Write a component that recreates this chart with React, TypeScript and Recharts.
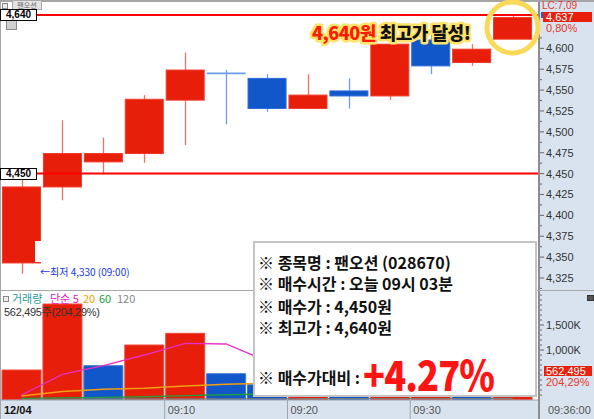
import React from 'react';
import { ComposedChart, Bar, Line, XAxis, YAxis, ReferenceLine, ReferenceDot, Cell } from 'recharts';

// candles (prices in KRW)
const slots = [0, 1, 2, 3, 4, 5, 6, 7, 8, 9, 10, 11, 12];
const timeLabels = ['12/04', '', '', '', '09:10', '', '', '09:20', '', '', '09:30', '', ''];
const opens = [4343, 4434, 4464, 4474, 4538, 4570, 4564, 4528, 4549, 4543, 4610, 4583, 4611];
const highs = [4445, 4514, 4493, 4544, 4595, 4574, 4569, 4569, 4564, 4612, 4618, 4605, 4640];
const lows = [4330, 4418, 4449, 4463, 4484, 4509, 4524, 4528, 4528, 4538, 4569, 4579, 4611];
const closes = [4434, 4474, 4474, 4539, 4574, 4569, 4528, 4544, 4543, 4605, 4579, 4599, 4637];

// volume panel
const volumes = [600000, 1920000, 686000, 1100000, 1333000, 526000, 306000, 420000, 300000, 700000, 800000, 450000, 562495];
const volUp = [true, true, false, true, true, false, false, true, false, true, true, false, true];
const ma5 = [100000, 514000, 686000, 900000, 1134000, 1120000, 780000, 737000, 577000, 450000, 505000, 534000, 562000];
const ma20 = [80000, 170000, 215000, 235000, 280000, 315000, 335000, 345000, 350000, 375000, 395000, 405000, 415000];
const ma60 = [33000, 42000, 53000, 65000, 87000, 105000, 118000, 122000, 126000, 134000, 142000, 146000, 150000];
const ma120 = [18000, 19000, 20000, 21000, 22000, 23000, 24000, 25000, 26000, 27000, 28000, 29000, 30000];

const priceTicks = [4312.5, 4325, 4337.5, 4350, 4362.5, 4375, 4387.5, 4400, 4412.5, 4425, 4437.5, 4450, 4462.5,
  4475, 4487.5, 4500, 4512.5, 4525, 4537.5, 4550, 4562.5, 4575, 4587.5, 4600, 4612.5];
const priceLabels = [4325, 4350, 4375, 4400, 4425, 4450, 4475, 4500, 4525, 4550, 4575, 4600];
const volTicks = [100000, 200000, 300000, 400000, 500000, 600000, 700000, 800000, 900000, 1000000, 1100000,
  1200000, 1300000, 1400000, 1500000, 1600000, 1700000, 1800000, 1900000, 2000000, 2100000];
const volLabels = [1000000, 1500000];

const BUY_PRICE = 4450;
const HIGH_PRICE = 4640;

const rows = slots.map((i) => ({
  id: i,
  open: opens[i],
  high: highs[i],
  low: lows[i],
  close: closes[i],
  range: [lows[i], highs[i]],
  vol: volumes[i],
  ma5: ma5[i],
  ma20: ma20[i],
  ma60: ma60[i],
  ma120: ma120[i],
}));

const KR = '"Noto Sans CJK KR", "Noto Sans", sans-serif';
const AX = '"Liberation Sans Narrow", "Liberation Sans", Arial, sans-serif';
const PANEL = '#d9e3ef';
const RED = '#e61e0a';
const BLUE = '#1257c9';

const Candle = (props: any) => {
  const { x, y, width, height, payload } = props;
  if (!payload) return null;
  const { open, close, high, low } = payload;
  const top = Math.min(y, y + height);
  const span = Math.abs(height);
  const k = high > low ? span / (high - low) : 0;
  const py = (v: number) => top + (high - v) * k;
  const up = close > open;
  const cx = Math.round(x + width / 2) + 0.5;
  const bTop = py(Math.max(open, close));
  const bh = py(Math.min(open, close)) - bTop;
  const wick = up ? '#f0736a' : '#6e9de6';
  return (
    <g>
      <line x1={cx} x2={cx} y1={top} y2={top + span} stroke={wick} strokeWidth={1.3} />
      {bh < 1.5 ? (
        <line x1={x} x2={x + width} y1={bTop} y2={bTop} stroke={wick} strokeWidth={1.6} />
      ) : (
        <rect x={x + 0.5} y={bTop} width={width - 1} height={bh}
          fill={up ? RED : BLUE} stroke={up ? '#f23a28' : '#2a6ad6'} strokeWidth={1} />
      )}
    </g>
  );
};

const PriceTick = ({ x, y, payload }: any) => {
  const v = payload.value;
  const major = priceLabels.includes(v);
  return (
    <g>
      <line x1={x + 2} x2={x + (major ? 6 : 4)} y1={y} y2={y} stroke="#666" />
      {major && (
        <text x={x + 8} y={y + 4} fontSize={11} fill="#333" fontFamily={AX}>{v.toLocaleString('en-US')}</text>
      )}
    </g>
  );
};

const VolTick = ({ x, y, payload }: any) => {
  const v = payload.value;
  const major = volLabels.includes(v);
  return (
    <g>
      <line x1={x + 2} x2={x + (major ? 6 : 4)} y1={y} y2={y} stroke="#666" />
      {major && (
        <text x={x + 8} y={y + 4} fontSize={11} fill="#333" fontFamily={AX}>{(v / 1000).toLocaleString('en-US')}K</text>
      )}
    </g>
  );
};

const TimeTick = ({ x, y, payload }: any) => {
  const label = timeLabels[payload.value];
  if (!label) return null;
  const left = x - (payload.offset || 20.5);
  const first = payload.value === 0;
  return (
    <g>
      {!first && <line x1={left} x2={left} y1={y} y2={y + 19} stroke="#9aa4b0" />}
      <text x={left + 3} y={y + 14} fontSize={11} fontWeight={first ? 700 : 400}
        fill={first ? '#111' : '#555'} fontFamily={AX}>{label}</text>
    </g>
  );
};

const abs = (l: number, t: number, extra: React.CSSProperties = {}): React.CSSProperties => ({
  position: 'absolute', left: l, top: t, ...extra,
});

const legend = [
  { text: '거래량', color: '#2a9d9d', x: 12 },
  { text: '단순 5', color: '#e020c0', x: 50 },
  { text: '20', color: '#f0a000', x: 83 },
  { text: '60', color: '#20a040', x: 99 },
  { text: '120', color: '#888', x: 117 },
];

export default function App() {
  return (
    <div style={{ position: 'relative', width: 594, height: 419, background: '#fff', overflow: 'hidden' }}>
      <style>{'body{margin:0}'}</style>

      {/* axis panels */}
      <div style={abs(538, 0, { width: 56, height: 419, background: PANEL })} />
      <div style={abs(0, 400, { width: 594, height: 19, background: PANEL })} />
      <div style={abs(538, 0, { width: 2, height: 419, background: '#8c8c8c' })} />
      <div style={abs(0, 290, { width: 594, height: 1, background: '#a8a8a8' })} />
      <div style={abs(0, 0, { width: 594, height: 2, background: '#a6a6a6' })} />
      <div style={abs(0, 0, { width: 1, height: 419, background: '#a6a6a6' })} />

      <div style={abs(0, 0)}>
        <ComposedChart width={594} height={291} data={rows} margin={{ top: 3, right: 0, bottom: 0, left: 1 }}>
          <XAxis dataKey="id" type="category" hide padding={{ left: 0, right: 5 }} />
          <YAxis orientation="right" width={56} domain={[4309.4, 4654.3]} allowDataOverflow
            ticks={priceTicks} interval={0} tickSize={0} tickMargin={0} tickLine={false}
            axisLine={false} tick={<PriceTick />} />
          <Bar dataKey="range" barSize={39} shape={<Candle />} isAnimationActive={false} />
          <ReferenceLine y={HIGH_PRICE} stroke="#ff0000" strokeWidth={2} />
          <ReferenceLine y={BUY_PRICE} stroke="#ff0000" strokeWidth={2} />
          <ReferenceDot x={12} y={4625} r={25.5} fill="none" stroke="#f9d95a" strokeWidth={5} />
        </ComposedChart>
      </div>

      <div style={abs(0, 291)}>
        <ComposedChart width={594} height={128} data={rows} margin={{ top: 1, right: 0, bottom: 0, left: 1 }}>
          <XAxis dataKey="id" type="category" padding={{ left: 0, right: 5 }} height={19} interval={0}
            tickSize={0} tickMargin={0} tickLine={false} axisLine={{ stroke: '#9aa4b0' }} tick={<TimeTick />} />
          <YAxis orientation="right" width={56} domain={[0, 2160000]} allowDataOverflow
            ticks={volTicks} interval={0} tickSize={0} tickMargin={0} tickLine={false}
            axisLine={false} tick={<VolTick />} />
          <Bar dataKey="vol" barSize={39} isAnimationActive={false}>
            {rows.map((r, i) => (
              <Cell key={r.id} fill={volUp[i] ? RED : BLUE} stroke={volUp[i] ? '#f04a3a' : '#3d78d8'} />
            ))}
          </Bar>
          <Line dataKey="ma120" type="linear" stroke="#7a7a7a" strokeWidth={1.3} dot={false} activeDot={false} isAnimationActive={false} />
          <Line dataKey="ma60" type="linear" stroke="#1e9e3e" strokeWidth={1.3} dot={false} activeDot={false} isAnimationActive={false} />
          <Line dataKey="ma20" type="linear" stroke="#f0a010" strokeWidth={1.3} dot={false} activeDot={false} isAnimationActive={false} />
          <Line dataKey="ma5" type="linear" stroke="#e830c8" strokeWidth={1.3} dot={false} activeDot={false} isAnimationActive={false} />
        </ComposedChart>
      </div>

      {/* top-left header bits */}
      <div style={abs(2, 3, { width: 4, height: 4, border: '1px solid #888', background: '#eee' })} />
      <div style={abs(12, 0, { width: 28, height: 8, background: '#e2e2e2', border: '1px solid #aaa', fontSize: 7, lineHeight: '8px', color: '#666', fontFamily: KR, textAlign: 'center' })}>팬오션</div>
      <div style={abs(6, 19, { width: 9, height: 9, background: '#d0d0d0', border: '1px solid #888' })} />

      {/* price tags on the red lines */}
      <div style={abs(0, 9, { width: 35, height: 10, background: '#fff', border: '1px solid #000', fontSize: 10, lineHeight: '10px', fontWeight: 700, textAlign: 'center', fontFamily: AX })}>4,640</div>
      <div style={abs(0, 168, { width: 35, height: 10, background: '#fff', border: '1px solid #000', fontSize: 10, lineHeight: '10px', fontWeight: 700, textAlign: 'center', fontFamily: AX })}>4,450</div>

      {/* low marker */}
      <div style={abs(35, 241, { width: 6, height: 21, background: '#fff' })} />
      <div style={abs(40, 265, { fontSize: 10, color: '#2038e8', fontFamily: KR, whiteSpace: 'nowrap', lineHeight: '14px' })}>←최저 4,330 (09:00)</div>

      {/* right panel tags */}
      <div style={abs(542, 0, { fontSize: 10, color: '#e8362a', fontFamily: AX, lineHeight: '11px' })}>LC:7,09</div>
      <div style={abs(541, 12, { width: 2, height: 6, background: '#2a5ad8' })} />
      <div style={abs(543, 12, { width: 49, height: 10, background: '#e8200c', color: '#fff', fontSize: 11, lineHeight: '10px', paddingLeft: 3, boxSizing: 'border-box', fontFamily: AX })}>4,637</div>
      <div style={abs(546, 23, { fontSize: 11, color: '#e8362a', fontFamily: AX, lineHeight: '10px' })}>0,80%</div>
      <div style={abs(587, 295, { width: 5, height: 4, background: '#555', border: '1px solid #333' })} />
      <div style={abs(544, 366, { width: 48, height: 10, background: '#e8200c', color: '#fff', fontSize: 11, lineHeight: '10px', paddingLeft: 2, boxSizing: 'border-box', fontFamily: AX })}>562,495</div>
      <div style={abs(546, 377, { fontSize: 11, color: '#e8362a', fontFamily: AX, lineHeight: '10px' })}>204,29%</div>
      <div style={abs(548, 403, { fontSize: 11, color: '#555', fontFamily: AX, lineHeight: '14px' })}>09:36:00</div>

      {/* volume legend */}
      <div style={abs(3, 296, { width: 4, height: 4, border: '1px solid #888', background: '#eee' })} />
      {legend.map((l) => (
        <div key={l.text} style={abs(l.x, 292, { fontSize: 11, fontFamily: KR, lineHeight: '12px', whiteSpace: 'nowrap', color: l.color })}>{l.text}</div>
      ))}
      <div style={abs(4, 306, { fontSize: 11, fontFamily: AX, lineHeight: '11px', color: '#333', whiteSpace: 'nowrap', letterSpacing: -0.3 })}>562,495<span style={{ fontFamily: KR }}>주</span>(204,29%)</div>

      {/* headline */}
      <svg width={594} height={419} style={abs(0, 0, { pointerEvents: 'none' })}>
        <text x={312} y={40} fontSize={18} fontWeight={900} fontFamily={KR} stroke="#ffe36a" strokeWidth={5}
          strokeLinejoin="round" paintOrder="stroke" letterSpacing={-0.5}>
          <tspan fill="#ff1a00">4,640원</tspan>
          <tspan fill="#111" dx={4}>최고가 달성!</tspan>
        </text>
      </svg>

      {/* info box */}
      <div style={abs(253, 241, { width: 284, height: 156, background: '#fff', border: '2px solid #c4c4c4', boxSizing: 'border-box', fontFamily: KR, fontWeight: 700, color: '#111', whiteSpace: 'nowrap' })}>
        <div style={abs(3, 10, { fontSize: 16, lineHeight: '18px' })}>※ 종목명 : 팬오션 (028670)</div>
        <div style={abs(3, 31, { fontSize: 16, lineHeight: '18px' })}>※ 매수시간 : 오늘 09시 03분</div>
        <div style={abs(3, 54, { fontSize: 16, lineHeight: '18px' })}>※ 매수가 : 4,450원</div>
        <div style={abs(3, 75, { fontSize: 16, lineHeight: '18px' })}>※ 최고가 : 4,640원</div>
        <div style={abs(3, 125, { fontSize: 16, lineHeight: '18px' })}>※ 매수가대비 :</div>
        <div style={abs(108, 106, { fontSize: 42, lineHeight: '48px', color: '#ff1414', fontWeight: 900, letterSpacing: -1, transform: 'scaleX(0.86)', transformOrigin: 'left center' })}>+4.27%</div>
      </div>
    </div>
  );
}
